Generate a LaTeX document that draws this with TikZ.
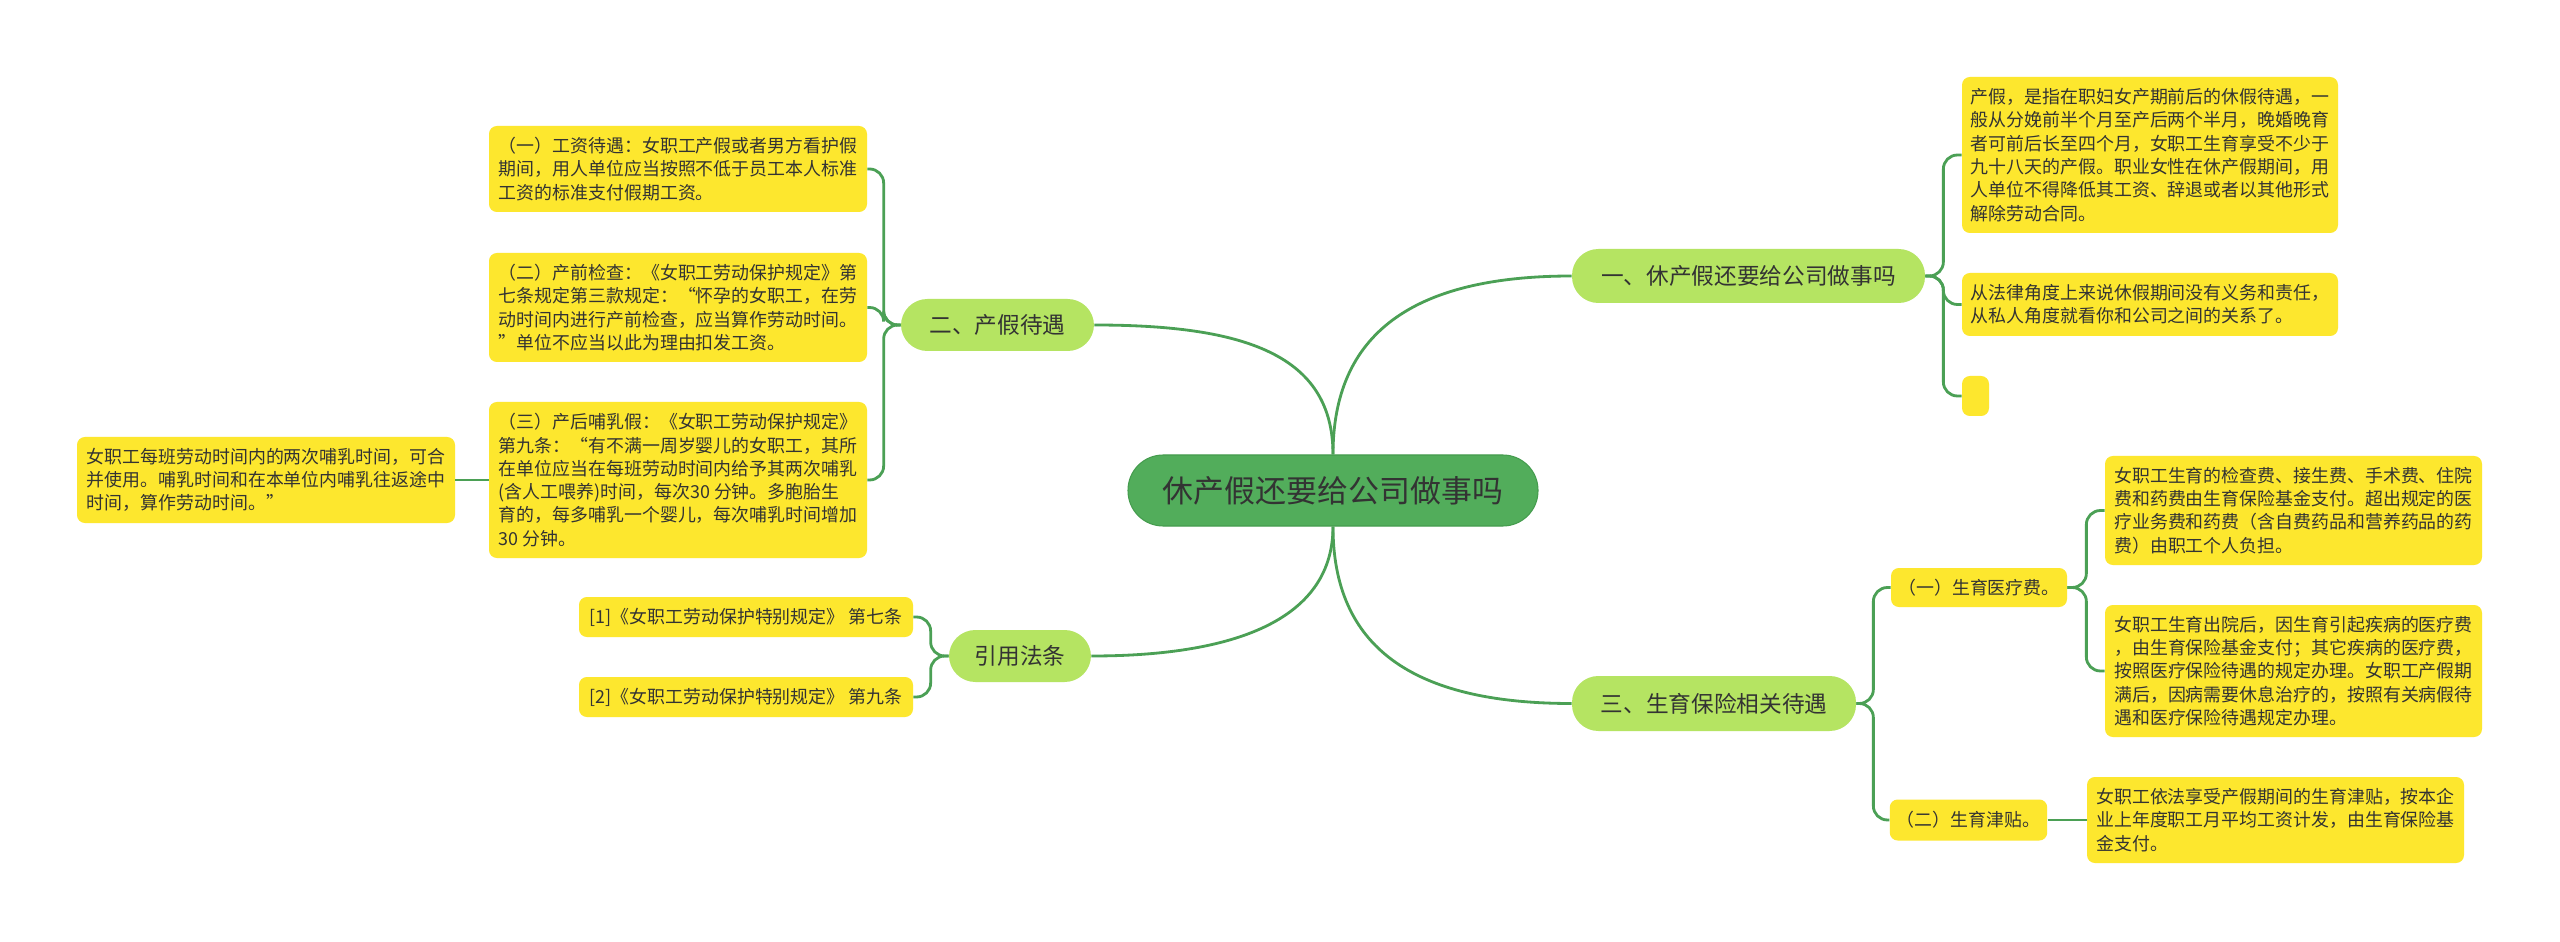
\documentclass[tikz,border=0pt]{standalone}
\usepackage{fontspec}
\setmainfont{Noto Sans CJK SC}

\definecolor{rootgreen}{HTML}{52AD5B}
\definecolor{rootedge}{HTML}{459C4E}
\definecolor{branchlime}{HTML}{B5E462}
\definecolor{leafyellow}{HTML}{FDE72E}
\definecolor{linkgreen}{HTML}{4BA055}
\definecolor{inkgray}{HTML}{333333}

\def\pxu{0.02cm}
\newcommand{\leaffont}{\fontsize{10.2pt}{13.25pt}\selectfont}
\newcommand{\branchfont}{\fontsize{12.9pt}{15pt}\selectfont}
\newcommand{\rootfont}{\fontsize{17.6pt}{20pt}\selectfont}

\begin{document}
\begin{tikzpicture}[
    x=0.02cm, y=-0.02cm,
    link/.style={draw=linkgreen, line width=1.6pt},
    bracket/.style={link, rounded corners=8pt},
    rootbox/.style={fill=rootgreen, draw=rootedge, line width=0.6pt, rounded corners=20pt,
        text=inkgray, font=\rootfont, minimum width=410*\pxu, minimum height=71*\pxu},
    branchbox/.style 2 args={fill=branchlime, rounded corners=15pt, text=inkgray,
        font=\branchfont, minimum width=#1*\pxu, minimum height=#2*\pxu},
    leafbox/.style 2 args={fill=leafyellow, rounded corners=4.5pt, text=inkgray,
        font=\leaffont, align=left, inner sep=4pt,
        minimum width=#1*\pxu, minimum height=#2*\pxu}
]

    \fill[white] (0,0) rectangle (2560,942);
    \useasboundingbox (0,0) rectangle (2560,942);

    % centre and main topics
    \node[rootbox] (root) at (1333,490.5) {休产假还要给公司做事吗};
    \node[branchbox={353}{54}] (leave) at (1748.5,276) {一、休产假还要给公司做事吗};
    \node[branchbox={193}{52}] (pay) at (997.5,325) {二、产假待遇};
    \node[branchbox={284}{55}] (insur) at (1714,703.5) {三、生育保险相关待遇};
    \node[branchbox={142}{52}] (laws) at (1020,656) {引用法条};

    % right upper
    \node[leafbox={376}{156}] (leaveA) at (2150,155) {产假，是指在职妇女产期前后的休假待遇，一\\
        般从分娩前半个月至产后两个半月，晚婚晚育\\
        者可前后长至四个月，女职工生育享受不少于\\
        九十八天的产假。职业女性在休产假期间，用\\
        人单位不得降低其工资、辞退或者以其他形式\\
        解除劳动合同。};
    \node[leafbox={376}{63}] (leaveB) at (2150,304.5) {从法律角度上来说休假期间没有义务和责任，\\
        从私人角度就看你和公司之间的关系了。};
    \node[leafbox={27}{40}, inner sep=0pt] (leaveC) at (1975.5,396) {};

    % left upper
    \node[leafbox={378}{86}] (payA) at (678,169) {（一）工资待遇：女职工产假或者男方看护假\\
        期间，用人单位应当按照不低于员工本人标准\\
        工资的标准支付假期工资。};
    \node[leafbox={378}{109}] (payB) at (678,307.5) {（二）产前检查：《女职工劳动保护规定》第\\
        七条规定第三款规定：“怀孕的女职工，在劳\\
        动时间内进行产前检查，应当算作劳动时间。\\
        ”单位不应当以此为理由扣发工资。};
    \node[leafbox={378}{156}] (payC) at (678,480) {（三）产后哺乳假：《女职工劳动保护规定》\\
        第九条：“有不满一周岁婴儿的女职工，其所\\
        在单位应当在每班劳动时间内给予其两次哺乳\\
        (含人工喂养)时间，每次30 分钟。多胞胎生\\
        育的，每多哺乳一个婴儿，每次哺乳时间增加\\
        30 分钟。};
    \node[leafbox={378}{86}] (payCnote) at (266,480) {女职工每班劳动时间内的两次哺乳时间，可合\\
        并使用。哺乳时间和在本单位内哺乳往返途中\\
        时间，算作劳动时间。”};

    % left lower
    \node[leafbox={334}{40}] (lawA) at (746,617) {[1]《女职工劳动保护特别规定》 第七条};
    \node[leafbox={334}{40}] (lawB) at (746,697) {[2]《女职工劳动保护特别规定》 第九条};

    % right lower
    \node[leafbox={176}{39}] (med) at (1979,587.5) {（一）生育医疗费。};
    \node[leafbox={155}{41}] (allow) at (1968.5,820) {（二）生育津贴。};
    \node[leafbox={377}{109}] (medA) at (2293.5,510.5) {女职工生育的检查费、接生费、手术费、住院\\
        费和药费由生育保险基金支付。超出规定的医\\
        疗业务费和药费（含自费药品和营养药品的药\\
        费）由职工个人负担。};
    \node[leafbox={377}{132}] (medB) at (2293.5,671) {女职工生育出院后，因生育引起疾病的医疗费\\
        ，由生育保险基金支付；其它疾病的医疗费，\\
        按照医疗保险待遇的规定办理。女职工产假期\\
        满后，因病需要休息治疗的，按照有关病假待\\
        遇和医疗保险待遇规定办理。};
    \node[leafbox={377}{86}] (allowA) at (2275.5,820) {女职工依法享受产假期间的生育津贴，按本企\\
        业上年度职工月平均工资计发，由生育保险基\\
        金支付。};

    % connectors from the centre
    \draw[link] (root.north) .. controls +(0,-120) and +(-160,0) .. (leave.west);
    \draw[link] (root.north) .. controls +(0,-100) and +(150,0) .. (pay.east);
    \draw[link] (root.south) .. controls +(0,120) and +(-160,0) .. (insur.west);
    \draw[link] (root.south) .. controls +(0,90) and +(150,0) .. (laws.east);

    % connectors to the leaves
    \foreach \leaf in {leaveA, leaveB, leaveC}
        \draw[bracket] (leave.east) -- ++(18,0) |- (\leaf.west);
    \foreach \leaf in {payA, payB, payC}
        \draw[bracket] (pay.west) -- ++(-17,0) |- (\leaf.east);
    \foreach \leaf in {lawA, lawB}
        \draw[bracket] (laws.west) -- ++(-18,0) |- (\leaf.east);
    \foreach \leaf in {med, allow}
        \draw[bracket] (insur.east) -- ++(17,0) |- (\leaf.west);
    \foreach \leaf in {medA, medB}
        \draw[bracket] (med.east) -- ++(19,0) |- (\leaf.west);
    \draw[link] (payC.west) -- (payCnote.east);
    \draw[link] (allow.east) -- (allowA.west);

\end{tikzpicture}
\end{document}
